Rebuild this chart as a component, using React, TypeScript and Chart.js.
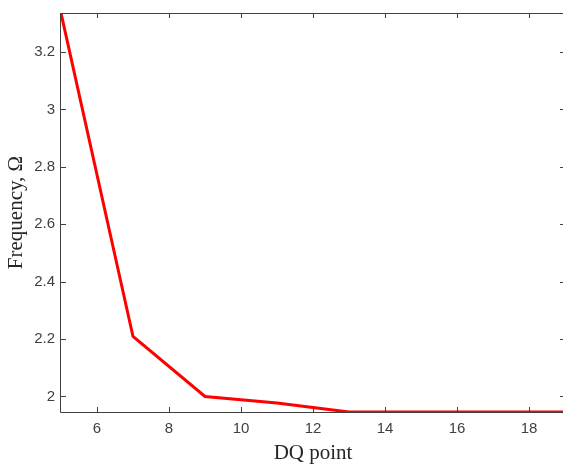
import React, { useEffect, useRef } from "react";
import { Chart, registerables } from "chart.js";

Chart.register(...registerables);

const dqPoints = [5, 7, 9, 11, 13, 15, 17, 19];
const frequency = [3.336, 2.209, 2.0, 1.977, 1.946, 1.946, 1.946, 1.946];
const xTickValues = [6, 8, 10, 12, 14, 16, 18];
const yTickValues = [2, 2.2, 2.4, 2.6, 2.8, 3, 3.2];
const xRange = [5, 19];
const yRange = [1.946, 3.336];

const AXIS_COLOR = "#404040";

const boxTicksPlugin = {
  id: "boxTicks",
  afterDatasetsDraw(chart: any) {
    const { ctx, chartArea } = chart;
    const { left, right, top, bottom } = chartArea;
    const xs = chart.scales.x;
    const ys = chart.scales.y;
    const len = 5;
    ctx.save();
    ctx.strokeStyle = AXIS_COLOR;
    ctx.lineWidth = 1;
    ctx.beginPath();
    ctx.moveTo(left - 0.5, top + 0.5);
    ctx.lineTo(right, top + 0.5);
    ctx.moveTo(left - 0.5, top);
    ctx.lineTo(left - 0.5, bottom + 0.5);
    ctx.lineTo(right, bottom + 0.5);
    ctx.moveTo(right - 0.5, top);
    ctx.lineTo(right - 0.5, bottom);
    for (const v of xTickValues) {
      const px = Math.round(xs.getPixelForValue(v)) + 0.5;
      ctx.moveTo(px, bottom);
      ctx.lineTo(px, bottom - len);
      ctx.moveTo(px, top);
      ctx.lineTo(px, top + len);
    }
    for (const v of yTickValues) {
      const py = Math.round(ys.getPixelForValue(v)) + 0.5;
      ctx.moveTo(left, py);
      ctx.lineTo(left + len, py);
      ctx.moveTo(right, py);
      ctx.lineTo(right - len, py);
    }
    ctx.stroke();
    ctx.restore();
  },
};

export default function App() {
  const ref = useRef<HTMLCanvasElement | null>(null);

  useEffect(() => {
    if (!ref.current) return;
    const chart = new Chart(ref.current, {
      type: "line",
      data: {
        datasets: [
          {
            data: dqPoints.map((x, i) => ({ x, y: frequency[i] })),
            borderColor: "#ff0000",
            borderWidth: 3,
            pointRadius: 0,
            fill: false,
            tension: 0,
          },
        ],
      },
      options: {
        animation: false,
        responsive: false,
        maintainAspectRatio: false,
        layout: { padding: { top: 13, left: 0, right: 0, bottom: 0 } },
        plugins: { legend: { display: false }, tooltip: { enabled: false } },
        scales: {
          x: {
            type: "linear",
            min: xRange[0],
            max: xRange[1],
            afterBuildTicks: (s: any) => {
              s.ticks = xTickValues.map((v) => ({ value: v }));
            },
            afterFit: (s: any) => {
              s.height = 52;
              s.paddingLeft = 0;
              s.paddingRight = 0;
            },
            grid: { display: false, drawTicks: false },
            border: { display: false },
            ticks: {
              padding: 8,
              maxRotation: 0,
              autoSkip: false,
              color: AXIS_COLOR,
              font: { family: "'Liberation Sans', Arial, sans-serif", size: 15 },
              callback: (v: any) => String(v),
            },
            title: {
              display: true,
              text: "DQ point",
              color: "#262626",
              padding: { top: 0, bottom: 0 },
              font: { family: "'Liberation Serif', 'Times New Roman', serif", size: 21, lineHeight: 1 },
            },
          },
          y: {
            type: "linear",
            min: yRange[0],
            max: yRange[1],
            afterBuildTicks: (s: any) => {
              s.ticks = yTickValues.map((v) => ({ value: v }));
            },
            afterFit: (s: any) => {
              s.width = 61;
              s.paddingTop = 0;
              s.paddingBottom = 0;
            },
            grid: { display: false, drawTicks: false },
            border: { display: false },
            ticks: {
              padding: 6,
              autoSkip: false,
              color: AXIS_COLOR,
              font: { family: "'Liberation Sans', Arial, sans-serif", size: 15 },
              callback: (v: any) => String(v),
            },
            title: {
              display: true,
              text: "Frequency, Ω",
              color: "#262626",
              padding: { top: 6, bottom: 0 },
              font: { family: "'Liberation Serif', 'Times New Roman', serif", size: 21, lineHeight: 1 },
            },
          },
        },
      },
      plugins: [boxTicksPlugin],
    });
    return () => chart.destroy();
  }, []);

  return (
    <div style={{ position: "fixed", left: 0, top: 0, width: 563, height: 464, overflow: "hidden", background: "#fff" }}>
      <canvas ref={ref} width={565} height={464} style={{ display: "block", width: 565, height: 464 }} />
    </div>
  );
}
